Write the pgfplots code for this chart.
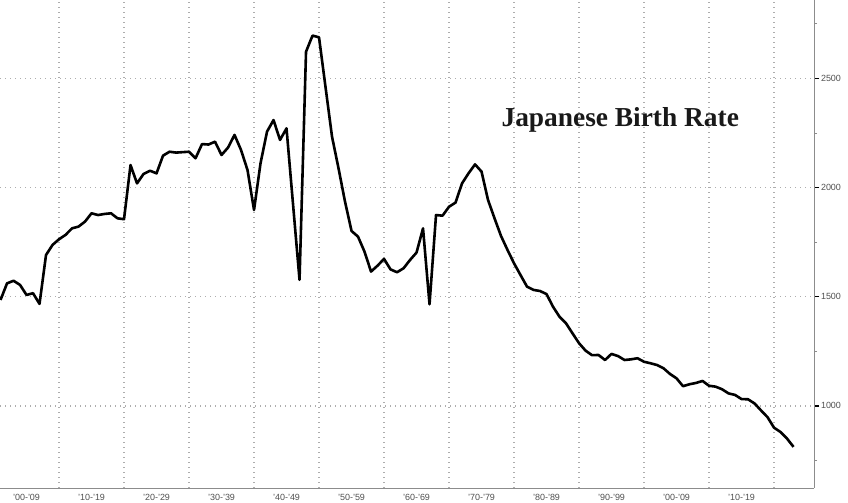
\documentclass[border=0pt]{standalone}
\usepackage{pgfplots}
\pgfplotsset{compat=1.18}
\usepackage{pgfplotstable}
\usepackage{fontspec}
\setmainfont{Liberation Sans}
\newfontfamily\titlefont{Liberation Serif}
\definecolor{gridc}{HTML}{ADADAD}
\definecolor{labc}{HTML}{505050}
\definecolor{axc}{HTML}{8C8C8C}
\pgfplotstableread{
year births
1900 1485
1901 1561
1902 1573
1903 1554
1904 1508
1905 1516
1906 1467
1907 1691
1908 1737
1909 1763
1910 1783
1911 1813
1912 1821
1913 1844
1914 1882
1915 1874
1916 1879
1917 1882
1918 1859
1919 1855
1920 2103
1921 2019
1922 2062
1923 2077
1924 2065
1925 2146
1926 2164
1927 2160
1928 2162
1929 2164
1930 2134
1931 2199
1932 2197
1933 2210
1934 2149
1935 2183
1936 2241
1937 2172
1938 2080
1939 1897
1940 2111
1941 2256
1942 2309
1943 2218
1944 2271
1946 1577
1947 2622
1948 2696
1949 2688
1950 2460
1951 2233
1952 2088
1953 1935
1954 1801
1955 1775
1956 1706
1957 1615
1958 1642
1959 1673
1960 1625
1961 1612
1962 1630
1963 1668
1964 1702
1965 1813
1966 1465
1967 1874
1968 1871
1969 1912
1970 1931
1971 2019
1972 2065
1973 2106
1974 2073
1975 1943
1976 1859
1977 1778
1978 1714
1979 1653
1980 1599
1981 1546
1982 1531
1983 1526
1984 1512
1985 1454
1986 1408
1987 1378
1988 1332
1989 1287
1990 1253
1991 1232
1992 1233
1993 1210
1994 1238
1995 1228
1996 1210
1997 1213
1998 1218
1999 1202
2000 1195
2001 1187
2002 1172
2003 1146
2004 1126
2005 1090
2006 1099
2007 1105
2008 1114
2009 1092
2010 1088
2011 1076
2012 1057
2013 1050
2014 1031
2015 1030
2016 1011
2017 979
2018 948
2019 900
2020 880
2021 850
2022 812
}\births
\begin{document}
\begin{tikzpicture}
\begin{axis}[
  at={(0,0)}, anchor=south west,
  scale only axis, width=814bp, height=488bp,
  xmin=1899.92, xmax=2025.15,
  ymin=623.7, ymax=2859,
  axis x line*=bottom, axis y line*=right,
  axis line style={-, draw=axc, line width=0.9bp},
  xtick={1904,1914,1924,1934,1944,1954,1964,1974,1984,1994,2004,2014},
  xticklabels={'00-'09,'10-'19,'20-'29,'30-'39,'40-'49,'50-'59,'60-'69,'70-'79,'80-'89,'90-'99,'00-'09,'10-'19},
  x tick label style={font=\fontsize{9}{10}\selectfont, text=labc, yshift=2bp},
  major x tick style={draw=none},
  extra x ticks={1909,1919,1929,1939,1949,1959,1969,1979,1989,1999,2009,2019},
  extra x tick labels={},
  extra x tick style={grid=major, tick align=outside, major tick length=15bp,
     major tick style={draw=gridc, line width=0.8bp}},
  ytick={1000,1500,2000,2500},
  minor ytick={750,1250,1750,2250,2750},
  ymajorgrids,
  grid style={draw=gridc, line width=1.5bp, dash pattern=on 1.4bp off 3.6bp},
  tick align=outside,
  major tick length=5bp, minor tick length=3bp,
  y tick style={draw=black, line width=1.4bp},
  minor y tick style={draw=axc, line width=0.8bp},
  y tick label style={font=\fontsize{9}{10}\selectfont, text=labc, xshift=-1.5bp},
  /pgf/number format/assume math mode=true,
  /pgf/number format/1000 sep={},
  clip=true,
]
\addplot[black, line width=2.6bp, line join=round] table[x=year, y=births] {\births};
\node[font=\titlefont\bfseries\fontsize{27.5}{30}\selectfont, text=black!90] at (rel axis cs:0.762,0.755) {Japanese Birth Rate};
\end{axis}
\pgfresetboundingbox
\path[use as bounding box] (0,-15bp) rectangle (848bp,488bp);
\end{tikzpicture}
\end{document}
